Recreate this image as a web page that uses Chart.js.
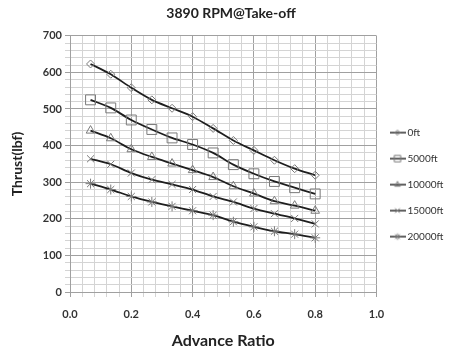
<!DOCTYPE html>
<html><head><meta charset="utf-8">
<script src="https://cdn.jsdelivr.net/npm/chart.js@4/dist/chart.umd.min.js"></script>
<style>html,body{margin:0;padding:0;background:#fff}#wrap{width:456px;height:349px}</style>
</head><body><div id="wrap"><canvas id="c" width="456" height="349"></canvas></div>
<script>
const advanceRatio = [0.067,0.133,0.2,0.267,0.333,0.4,0.467,0.533,0.6,0.667,0.733,0.8];
const thrust0ft     = [623,595,558,525,502,479,447,414,387,360,337,319];
const thrust5000ft  = [525,503,470,444,421,403,380,348,323,302,285,268];
const thrust10000ft = [441,420,390,369,351,333,314,289,269,248,236,222];
const thrust15000ft = [364,349,325,307,294,280,261,246,228,214,201,186];
const thrust20000ft = [296,280,261,246,234,222,210,192,178,166,158,148];
const seriesNames = ['0ft','5000ft','10000ft','15000ft','20000ft'];
const seriesValues = [thrust0ft,thrust5000ft,thrust10000ft,thrust15000ft,thrust20000ft];
const markerStyles = ['rectRot','rect','triangle','crossRot','star'];
const markerRadius = [4,7,5,5,5];

const FONT = 'Lato, "Open Sans", "DejaVu Sans", sans-serif';
const LINE = '#1e1e1e', MARK = '#7a7a7a';

function legendIcon(i){
  const cv = document.createElement('canvas');
  cv.width = 16; cv.height = 12;
  const ctx = cv.getContext('2d');
  ctx.strokeStyle = LINE; ctx.lineWidth = 1.4;
  ctx.beginPath(); ctx.moveTo(0,6); ctx.lineTo(16,6); ctx.stroke();
  ctx.strokeStyle = MARK; ctx.fillStyle = 'rgba(0,0,0,0)'; ctx.lineWidth = 1;
  Chart.helpers.drawPoint(ctx, {pointStyle: markerStyles[i], radius: markerRadius[i]*0.65, borderWidth: 1, rotation: 0}, 8, 6);
  return cv;
}

const datasets = seriesNames.map((n,i)=>({
  label: n,
  data: advanceRatio.map((x,j)=>({x:x, y:seriesValues[i][j]})),
  borderColor: LINE, borderWidth: 1.8,
  pointStyle: markerStyles[i], pointRadius: markerRadius[i],
  pointBorderColor: MARK, pointBackgroundColor: 'rgba(0,0,0,0)', pointBorderWidth: 1,
  tension: 0.3, fill: false
}));

const isMult = (v,s)=>Math.abs(v/s - Math.round(v/s)) < 1e-6;

const legendWidthFix = {
  id: 'legendWidthFix',
  beforeLayout(chart){
    const lg = chart.legend;
    if (lg && !lg._fixed){
      const f = lg.fit.bind(lg);
      lg.fit = function(){ f(); this.width = 79.5; };
      lg._fixed = true;
    }
  }
};

new Chart(document.getElementById('c'), {
  type: 'line',
  data: {datasets},
  plugins: [legendWidthFix],
  options: {
    responsive: false, animation: false,
    layout: {padding: {left: 6, right: 0, top: 2, bottom: 0}},
    plugins: {
      title: {display: true, text: '3890 RPM@Take-off', color: '#222',
        font: {family: FONT, size: 14, weight: 'bold'}, padding: {top: 3, bottom: 14}},
      legend: {position: 'right', align: 'center',
        title: {display: true, text: '', font: {size: 1}, padding: 8.5},
        labels: {usePointStyle: true, color: '#333', font: {family: FONT, size: 10}, padding: 16,
          generateLabels: (chart)=>chart.data.datasets.map((d,i)=>({
            text: d.label, pointStyle: legendIcon(i), datasetIndex: i, fontColor: '#333',
            strokeStyle: LINE, fillStyle: 'rgba(0,0,0,0)', lineWidth: 0, hidden: false
          }))}},
      tooltip: {enabled: false}
    },
    scales: {
      x: {type: 'linear', min: 0, max: 1,
        ticks: {stepSize: 0.04, autoSkip: false, maxRotation: 0, color: '#333', padding: 11,
          font: {family: FONT, size: 11, weight: 'bold'},
          callback: v => isMult(v,0.2) ? v.toFixed(1) : ''},
        grid: {color: c => isMult(c.tick.value,0.2) ? '#a0a0a0' : '#d4d4d4', tickLength: 5, lineWidth: 1},
        border: {color: '#a0a0a0'},
        title: {display: true, text: 'Advance Ratio', color: '#222', font: {family: FONT, size: 16, weight: 'bold'}, padding: {top: 4, bottom: -1}},
        afterFit: s => { s.height = 57; }
      },
      y: {min: 0, max: 700,
        ticks: {stepSize: 20, autoSkip: false, color: '#333',
          font: {family: FONT, size: 11, weight: 'bold'},
          callback: v => isMult(v,100) ? String(v) : ''},
        grid: {color: c => isMult(c.tick.value,100) ? '#a0a0a0' : '#d4d4d4', tickLength: 5, lineWidth: 1},
        border: {color: '#a0a0a0'},
        title: {display: true, text: 'Thrust(lbf)', color: '#222', font: {family: FONT, size: 14, weight: 'bold'}, padding: {top: 3.5, bottom: 2}},
        afterFit: s => { s.width = 64; }
      }
    }
  }
});
</script></body></html>
